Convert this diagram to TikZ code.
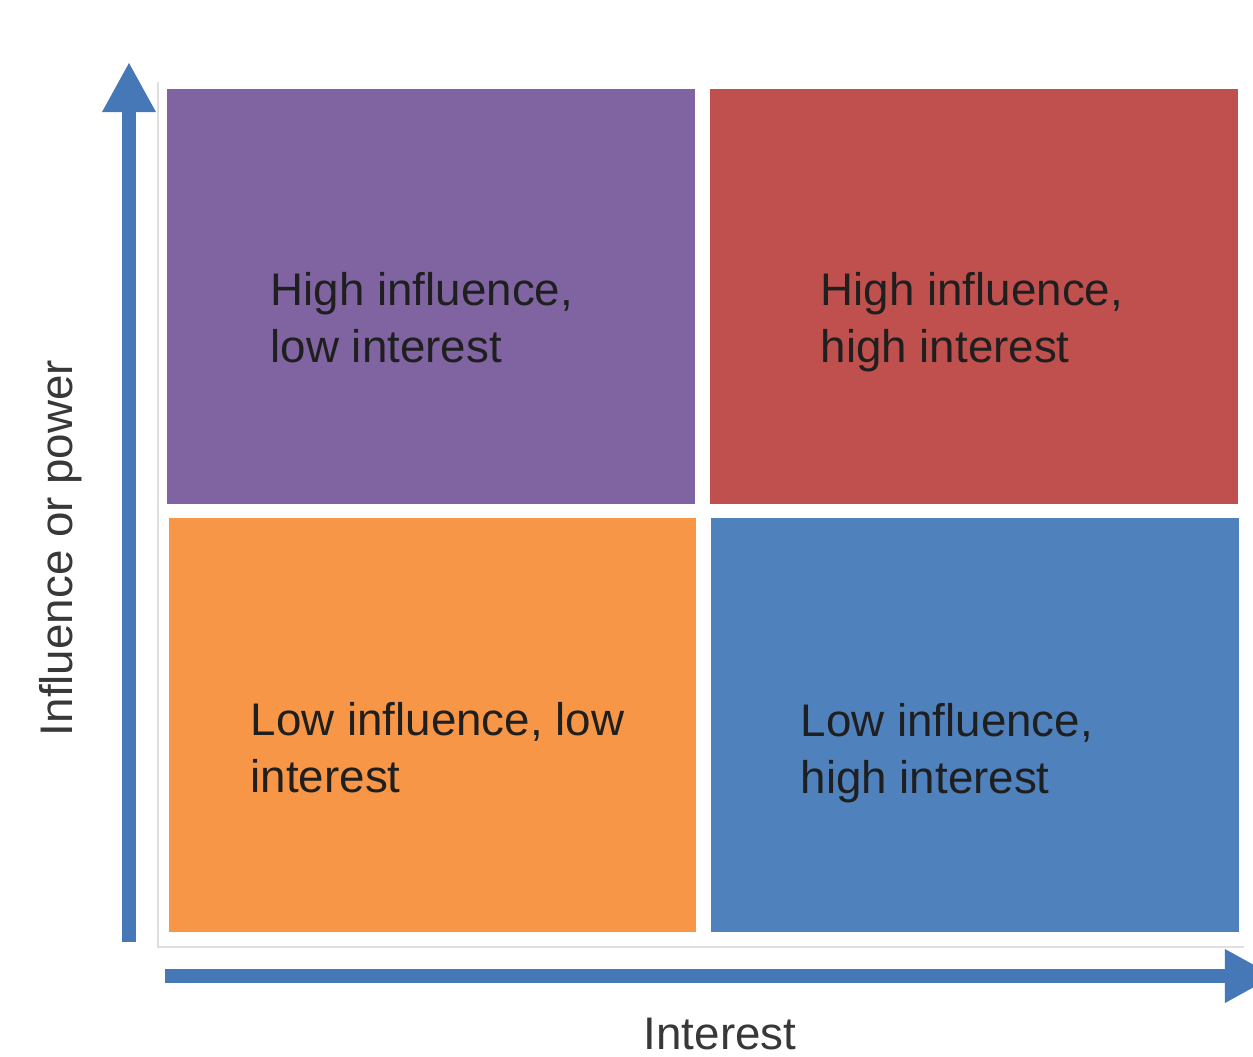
\documentclass[tikz,border=0pt]{standalone}
\usepackage{fontspec}
\setmainfont{Liberation Sans}
\usetikzlibrary{arrows.meta,positioning}
\definecolor{quadpurple}{HTML}{8064A2}
\definecolor{quadred}{HTML}{C0504D}
\definecolor{quadorange}{HTML}{F79646}
\definecolor{quadblue}{HTML}{4F81BD}
\definecolor{axisblue}{HTML}{4677B6}

\tikzset{
	quad/.style={rectangle,draw=none,inner sep=0,minimum width=5.27cm,minimum height=4.14cm},
	quadtext/.style={anchor=north west,inner sep=0,align=left,text=black!88,font=\fontsize{13}{16.2}\selectfont},
	axislabel/.style={text=black!78,font=\fontsize{13}{16}\selectfont},
	axisarrow/.style={draw=axisblue,line width=0.145cm,-{Triangle[width=0.5cm,length=0.5cm]}}
}

\begin{document}
\begin{tikzpicture}[x=0.01cm,y=-0.01cm]
		\useasboundingbox (0,0) rectangle (1253,1056);
		\fill[white] (0,0) rectangle (1253,1056);
		% faint frame round the grid
		\draw[gray!25,line width=0.02cm] (158,82) -- (158,947) -- (1244,947);
		% the four quadrants
		\node[quad,fill=quadpurple] (hilo) at (431,296.5) {};
		\node[quad,fill=quadred] (hihi) at (974,296.5) {};
		\node[quad,fill=quadorange] (lolo) at (432.5,725) {};
		\node[quad,fill=quadblue] (lohi) at (975,725) {};
		
		\node[quadtext] (hilotext) at (270,272) {High influence,\\low interest};
		\node[quadtext] (hihitext) at (820,272) {High influence,\\high interest};
		\node[quadtext] (lolotext) at (250,702) {Low influence, low\\interest};
		\node[quadtext] (lohitext) at (800,703) {Low influence,\\high interest};
		
		% axes
		\coordinate (ybot) at (129,942);
		\coordinate (ytop) at (129,62);
		\coordinate (xleft) at (165,976);
		\coordinate (xright) at (1275,976);
		\draw[axisarrow] (ybot) -- (ytop);
		\draw[axisarrow] (xleft) -- (xright);
		
		\node[axislabel,rotate=90,anchor=base] (ylabel) at (73,548) {Influence or power};
		\node[axislabel,anchor=base] (xlabel) at (720,1049) {Interest};
\end{tikzpicture}
\end{document}
